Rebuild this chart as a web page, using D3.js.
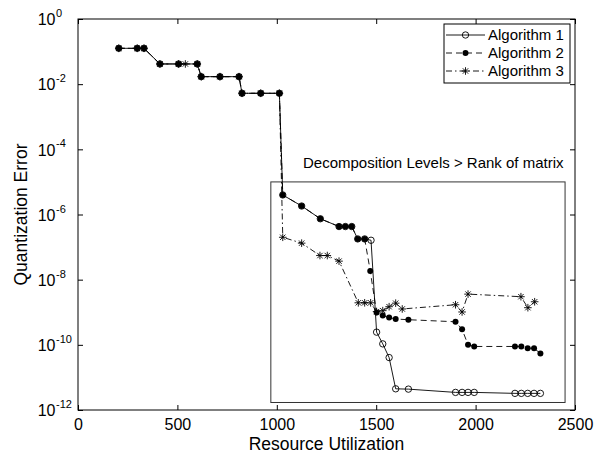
<!DOCTYPE html>
<html>
<head>
<meta charset="utf-8">
<script src="https://cdn.jsdelivr.net/npm/d3@7"></script>
<style>
  html, body { margin: 0; padding: 0; background: #fff; }
  svg { display: block; }
  text { font-family: "Liberation Sans", Arial, Helvetica, sans-serif; fill: #000; }
</style>
</head>
<body>
<svg id="chart" width="595" height="455"></svg>
<script>
// ---------------- data ----------------
const xTicks = [0, 500, 1000, 1500, 2000, 2500];
const yTickExps = [0, -2, -4, -6, -8, -10, -12];

const seriesNames = ["Algorithm 1", "Algorithm 2", "Algorithm 3"];

const alg1X = [205, 298, 332, 412, 506, 600, 620, 714, 810, 825, 919, 1013,
  1030, 1125, 1219, 1313, 1345, 1377, 1407, 1442, 1474, 1502, 1533, 1565, 1598, 1662,
  1899, 1932, 1962, 1993, 2198, 2230, 2262, 2294, 2326];
const alg1Y = [0.126, 0.126, 0.126, 0.0417, 0.0417, 0.0417, 0.017, 0.017, 0.017, 0.00525, 0.00525, 0.00525,
  3.98e-6, 1.82e-6, 7.4e-7, 4.27e-7, 4.27e-7, 4.27e-7, 1.78e-7, 1.78e-7, 1.62e-7, 2.45e-10, 1.07e-10, 4.07e-11, 4.47e-12, 4.37e-12,
  3.47e-12, 3.47e-12, 3.47e-12, 3.47e-12, 3.24e-12, 3.24e-12, 3.24e-12, 3.24e-12, 3.24e-12];

const alg2X = [205, 298, 332, 412, 506, 600, 620, 714, 810, 825, 919, 1013,
  1030, 1125, 1219, 1313, 1345, 1377, 1407, 1442, 1470, 1502, 1533, 1565, 1598, 1662,
  1899, 1932, 1962, 1993, 2198, 2230, 2262, 2294, 2326];
const alg2Y = [0.126, 0.126, 0.126, 0.0417, 0.0417, 0.0417, 0.017, 0.017, 0.017, 0.00525, 0.00525, 0.00525,
  3.98e-6, 1.82e-6, 7.4e-7, 4.27e-7, 4.27e-7, 4.27e-7, 1.78e-7, 1.78e-7, 1.86e-8, 9.8e-10, 7.9e-10, 6.9e-10, 6.2e-10, 5.9e-10,
  5.1e-10, 3.0e-10, 1.0e-10, 8.9e-11, 8.9e-11, 8.9e-11, 7.9e-11, 7.9e-11, 5.4e-11];

const alg3X = [205, 298, 332, 412, 506, 540, 600, 620, 714, 810, 825, 919, 1013,
  1030, 1125, 1217, 1254, 1313, 1410, 1442, 1472, 1502, 1533, 1565, 1598, 1631,
  1899, 1932, 1962, 2228, 2263, 2297];
const alg3Y = [0.126, 0.126, 0.126, 0.0417, 0.0417, 0.0417, 0.0417, 0.017, 0.017, 0.017, 0.00525, 0.00525, 0.00525,
  2.0e-7, 1.32e-7, 5.5e-8, 5.5e-8, 3.7e-8, 1.95e-9, 1.95e-9, 1.95e-9, 1.05e-9, 1.12e-9, 1.48e-9, 1.9e-9, 1.26e-9,
  1.7e-9, 1.02e-9, 3.6e-9, 3.0e-9, 1.38e-9, 2.1e-9];

// annotation box (data units) and its label
const insetX = [970, 2450];
const insetY = [1e-5, 1.7e-12];
const insetLabel = "Decomposition Levels > Rank of matrix";
const xLabel = "Resource Utilization";
const yLabel = "Quantization Error";

// ---------------- layout ----------------
const W = 595, H = 455;
const L = 78, R = 575, T = 19, B = 410;
const svg = d3.select("#chart");

const x = d3.scaleLinear().domain([0, 2500]).range([L, R]);
const y = d3.scaleLog().domain([1e-12, 1]).range([B, T]);
const yTicks = yTickExps.map(e => Math.pow(10, e));

const FONT = 16;
const tickLen = 5;

// background
svg.append("rect").attr("x", 0).attr("y", 0).attr("width", W).attr("height", H).attr("fill", "#fff");

// axes
const gB = svg.append("g").attr("transform", `translate(0,${B})`)
  .call(d3.axisBottom(x).tickValues(xTicks).tickSizeInner(-tickLen).tickSizeOuter(0).tickPadding(9).tickFormat(d3.format("d")));
gB.selectAll("text").attr("font-size", FONT);
const gT = svg.append("g").attr("transform", `translate(0,${T})`)
  .call(d3.axisTop(x).tickValues(xTicks).tickSizeInner(-tickLen).tickSizeOuter(0).tickFormat(""));
const gL = svg.append("g").attr("transform", `translate(${L},0)`)
  .call(d3.axisLeft(y).tickValues(yTicks).tickSizeInner(-tickLen).tickSizeOuter(0).tickFormat(""));
const gR = svg.append("g").attr("transform", `translate(${R},0)`)
  .call(d3.axisRight(y).tickValues(yTicks).tickSizeInner(-tickLen).tickSizeOuter(0).tickFormat(""));
[gB, gT, gL, gR].forEach(g => {
  g.select(".domain").remove();
  g.selectAll("line").attr("stroke", "#000").attr("stroke-width", 1);
  g.attr("font-family", null);
});

// y tick labels 10^n
gL.selectAll(".tick").each(function(d) {
  const e = Math.round(Math.log10(d));
  const t = d3.select(this).append("text")
    .attr("x", -22.5).attr("y", 0).attr("dy", "0.36em")
    .attr("text-anchor", "end").attr("font-size", FONT).attr("fill", "#000");
  t.append("tspan").text("10");
  const sup = d3.select(this).append("text")
    .attr("x", -22).attr("y", -2.5)
    .attr("text-anchor", "start").attr("font-size", 11).attr("fill", "#000")
    .text(String(e).replace("-", "-"));
});

// plot box
svg.append("rect").attr("x", L).attr("y", T).attr("width", R - L).attr("height", B - T)
  .attr("fill", "none").attr("stroke", "#000").attr("stroke-width", 1);

// inset box
svg.append("rect")
  .attr("x", x(insetX[0])).attr("y", y(insetY[0]))
  .attr("width", x(insetX[1]) - x(insetX[0])).attr("height", y(insetY[1]) - y(insetY[0]))
  .attr("fill", "none").attr("stroke", "#333").attr("stroke-width", 1);
svg.append("text").attr("x", 303).attr("y", 168).attr("font-size", 15).text(insetLabel);

// axis labels
svg.append("text").attr("x", (L + R) / 2).attr("y", 450).attr("text-anchor", "middle")
  .attr("font-size", 17.5).text(xLabel);
svg.append("text").attr("transform", `translate(27,${(T + B) / 2}) rotate(-90)`)
  .attr("text-anchor", "middle").attr("font-size", 17.5).text(yLabel);

// series
const series = [
  { name: seriesNames[0], xs: alg1X, ys: alg1Y, dash: null, marker: "circle" },
  { name: seriesNames[1], xs: alg2X, ys: alg2Y, dash: "6,4", marker: "dot" },
  { name: seriesNames[2], xs: alg3X, ys: alg3Y, dash: "6,3,1.5,3", marker: "star" }
];

const line = d3.line().x(d => x(d[0])).y(d => y(d[1]));
const starPath = (r) => {
  const a = r * Math.SQRT1_2;
  return `M${-r},0L${r},0M0,${-r}L0,${r}M${-a},${-a}L${a},${a}M${-a},${a}L${a},${-a}`;
};
function drawMarker(g, type, cx, cy) {
  if (type === "circle") {
    g.append("circle").attr("cx", cx).attr("cy", cy).attr("r", 3.2)
      .attr("fill", "none").attr("stroke", "#000").attr("stroke-width", 0.9);
  } else if (type === "dot") {
    g.append("circle").attr("cx", cx).attr("cy", cy).attr("r", 3)
      .attr("fill", "#000");
  } else {
    g.append("path").attr("transform", `translate(${cx},${cy})`).attr("d", starPath(3.8))
      .attr("fill", "none").attr("stroke", "#000").attr("stroke-width", 0.9);
  }
}

const plotG = svg.append("g");
series.forEach(s => {
  const pts = s.xs.map((v, i) => [v, s.ys[i]]);
  const g = plotG.append("g");
  g.append("path").attr("d", line(pts)).attr("fill", "none").attr("stroke", "#000")
    .attr("stroke-width", 0.9).attr("stroke-dasharray", s.dash);
  pts.forEach(p => drawMarker(g, s.marker, x(p[0]), y(p[1])));
});

// legend
const lg = svg.append("g");
const lx0 = 444, ly0 = 24, lw = 126, lh = 59;
lg.append("rect").attr("x", lx0).attr("y", ly0).attr("width", lw).attr("height", lh)
  .attr("fill", "#fff").attr("stroke", "#000").attr("stroke-width", 1);
series.forEach((s, i) => {
  const cy = 35 + i * 18;
  lg.append("line").attr("x1", 446).attr("x2", 485).attr("y1", cy).attr("y2", cy)
    .attr("stroke", "#000").attr("stroke-width", 0.9).attr("stroke-dasharray", s.dash);
  drawMarker(lg, s.marker, 465.5, cy);
  lg.append("text").attr("x", 488).attr("y", cy).attr("dy", "0.36em")
    .attr("font-size", 15).text(s.name);
});
</script>
</body>
</html>
